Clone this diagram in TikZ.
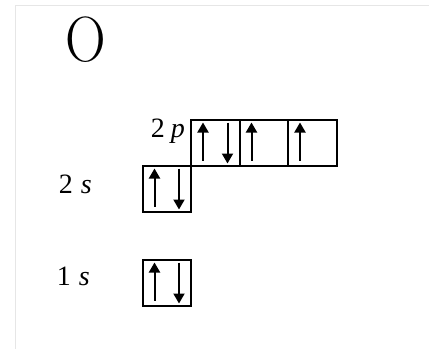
\documentclass[tikz,border=0pt]{standalone}
\usepackage{fontspec}
\setmainfont{Liberation Serif}
\newfontfamily\elemfont{Latin Modern Roman}
\usepackage{tikz}
\usetikzlibrary{positioning, arrows.meta}
\definecolor{FrameGray}{HTML}{E6E6E6}
\newcommand{\spinup}[1]{\draw[spin] ([xshift=12pt,yshift=5pt]#1.south west) -- ([xshift=12pt,yshift=-3pt]#1.north west);}
\newcommand{\spindown}[1]{\draw[spin] ([xshift=-12pt,yshift=-3pt]#1.north east) -- ([xshift=-12pt,yshift=2pt]#1.south east);}

\begin{document}
\begin{tikzpicture}[
  x=1pt, y=-1pt,
  font=\fontsize{28}{30}\selectfont,
  orb/.style={draw, line width=2pt, minimum width=48.5pt, minimum height=46pt, inner sep=0pt, outer sep=0pt},
  spin/.style={-{Triangle[width=11pt,length=10pt]}, line width=2pt},
  lbl/.style={anchor=base east, inner sep=0pt},
  every node/.style={anchor=center}
]
\useasboundingbox (0,0) rectangle (429,349);
\draw[FrameGray, line width=1pt] (15,349) -- (15,5) -- (429,5);
\node[font=\elemfont\fontsize{64}{64}\selectfont, xscale=0.88] (elem) at (86,40) {O};
% 2p orbitals
\node[orb] (p1) at (215.25,142.5) {};
\node[orb, right=0pt of p1] (p2) {};
\node[orb, right=0pt of p2] (p3) {};
% 2s and 1s orbitals
\node[orb, anchor=north east] (s2) at (p1.south west) {};
\node[orb, below=48pt of s2] (s1) {};
\node[lbl] (l2p) at (185,137) {2\kern6pt\textit{p}};
\node[lbl] (l2s) at (92,193) {2\kern8pt\textit{s}};
\node[lbl] (l1s) at (90,285) {1\kern8pt\textit{s}};
\spinup{p1} \spindown{p1}
\spinup{p2}
\spinup{p3}
\spinup{s2} \spindown{s2}
\spinup{s1} \spindown{s1}
\end{tikzpicture}
\end{document}
